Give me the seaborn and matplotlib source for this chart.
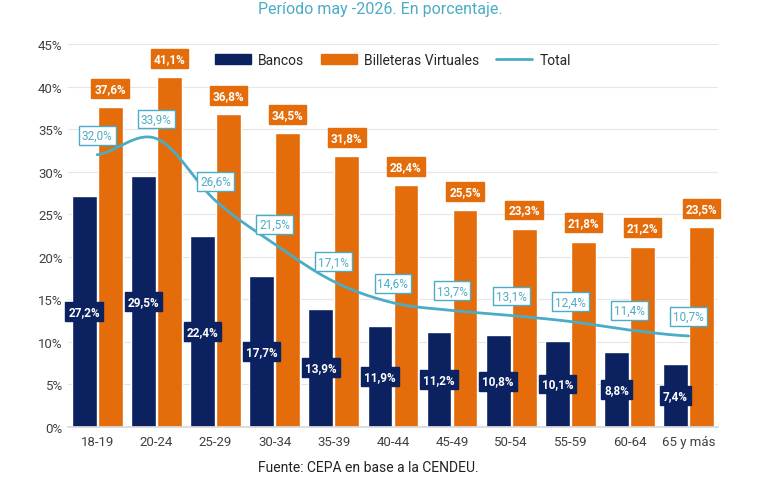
import numpy as np
import pandas as pd
import matplotlib
matplotlib.use("Agg")
import matplotlib.pyplot as plt
import seaborn as sns

categories = ["18-19","20-24","25-29","30-34","35-39","40-44","45-49","50-54","55-59","60-64","65 y más"]
bancos = [27.2,29.5,22.4,17.7,13.9,11.9,11.2,10.8,10.1,8.8,7.4]
billeteras = [37.6,41.1,36.8,34.5,31.8,28.4,25.5,23.3,21.8,21.2,23.5]
total = [32.0,33.9,26.6,21.5,17.1,14.6,13.7,13.1,12.4,11.4,10.7]

NAVY = "#0b2160"; ORANGE = "#e46c0a"; BLUE = "#4bacc6"

sns.set_theme(style="white")
plt.rcParams['font.family'] = ['Roboto', 'DejaVu Sans']

fig = plt.figure(figsize=(7.6, 4.85), dpi=100)
ax = fig.add_axes([0.089, 0.1175, 0.856, 0.7895])

df = pd.DataFrame({"cat": categories*2,
                   "val": bancos+billeteras,
                   "serie": ["Bancos"]*len(categories)+["Billeteras Virtuales"]*len(categories)})
sns.barplot(data=df, x="cat", y="val", hue="serie", palette=[NAVY, ORANGE],
            width=0.88, gap=0.05, ax=ax, saturation=1, legend=False)

# smooth total line (Catmull-Rom rendering of the data points)
x = np.arange(len(total)); y = np.array(total)
xs, ys = [], []
P = np.concatenate([[y[0]], y, [y[-1]]])
for i in range(len(y)-1):
    p0, p1, p2, p3 = P[i], P[i+1], P[i+2], P[i+3]
    t = np.linspace(0, 1, 20)
    yy = 0.5*((2*p1) + (-p0+p2)*t + (2*p0-5*p1+4*p2-p3)*t**2 + (-p0+3*p1-3*p2+p3)*t**3)
    xs.extend(i+t); ys.extend(yy)
ax.plot(xs, ys, color=BLUE, lw=2, zorder=3)

fmt = lambda v: f"{v:.1f}".replace(".", ",") + "%"
off = 0.22
for i in range(len(categories)):
    ax.text(i-off, bancos[i]/2, fmt(bancos[i]), ha="center", va="center", color="white",
            fontsize=8.5, fontweight="bold", zorder=5,
            bbox=dict(boxstyle="square,pad=0.25", fc=NAVY, ec=NAVY))
    ax.text(i+off, billeteras[i]+2.2, fmt(billeteras[i]), ha="center", va="center", color="white",
            fontsize=8.5, fontweight="bold", zorder=5,
            bbox=dict(boxstyle="square,pad=0.25", fc=ORANGE, ec=ORANGE))
    ax.text(i, total[i]+2.3, fmt(total[i]), ha="center", va="center", color=BLUE,
            fontsize=8.5, zorder=6,
            bbox=dict(boxstyle="square,pad=0.25", fc="white", ec=BLUE, lw=1))

ax.set_ylim(0, 45)
ax.set_xlim(-0.5, len(categories)-0.5)
ax.set_yticks(range(0, 46, 5))
ax.set_yticklabels([f"{v}%" for v in range(0, 46, 5)], fontsize=9.5, color="#404040")
ax.tick_params(axis="x", labelsize=9.5, colors="#404040", length=0, pad=6)
ax.tick_params(axis="y", length=0)
ax.set_xlabel(""); ax.set_ylabel("")
ax.yaxis.grid(True, color="#e6e6e6", lw=0.8)
ax.set_axisbelow(True)
for s in ["top", "right", "left"]:
    ax.spines[s].set_visible(False)
ax.spines["bottom"].set_color("#d9d9d9")

from matplotlib.patches import Patch
from matplotlib.lines import Line2D
handles = [Patch(color=NAVY, label="Bancos"), Patch(color=ORANGE, label="Billeteras Virtuales"),
           Line2D([0], [0], color=BLUE, lw=2, label="Total")]
ax.legend(handles=handles, loc="upper center", bbox_to_anchor=(0.5, 1.01), ncol=3, frameon=False,
          fontsize=10, handlelength=2.6, handleheight=0.7, columnspacing=1.2, handletextpad=0.5)

fig.text(0.5, 0.995, "Período may -2026. En porcentaje.", ha="center", va="top", color=BLUE, fontsize=11.5)
fig.text(0.485, 0.035, "Fuente: CEPA en base a la CENDEU.", ha="center", va="center", color="#222222", fontsize=10)

fig.savefig("out.png", dpi=100)
